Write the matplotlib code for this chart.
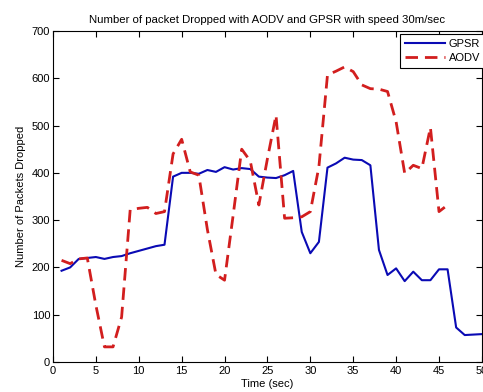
import matplotlib.pyplot as plt
import numpy as np

plt.rcParams['font.family'] = ['Liberation Sans', 'DejaVu Sans']

# GPSR packets dropped per second
gpsr_t = list(range(1, 51))
gpsr = [193, 200, 218, 220, 222, 218, 222, 224, 230, 235,
        240, 245, 248, 392, 400, 400, 398, 406, 402, 412,
        407, 410, 408, 392, 390, 389, 395, 404, 275, 230,
        254, 411, 420, 432, 428, 427, 416, 237, 184, 198,
        171, 191, 173, 173, 196, 196, 73, 57, 58, 59]

# AODV packets dropped per second
aodv_t = list(range(1, 47))
aodv = [215, 208, 218, 220, 120, 32, 32, 95, 322, 325,
        327, 314, 318, 440, 471, 402, 395, 280, 185, 173,
        310, 450, 425, 332, 430, 522, 304, 305, 307, 318,
        413, 607, 615, 624, 614, 586, 578, 577, 572, 508,
        399, 416, 409, 496, 318, 332]

fig = plt.figure(figsize=(4.83, 3.92), dpi=100)
ax = fig.add_axes([0.1097, 0.0765, 0.888, 0.8445])

ax.plot(gpsr_t, gpsr, color='#0a0ab4', linewidth=1.5, label='GPSR')
ax.plot(aodv_t, aodv, color='#d21e1e', linewidth=2, linestyle=(0, (4.5, 2.5)), label='AODV')

ax.set_xlim(0, 50)
ax.set_ylim(0, 700)
ax.set_xticks(range(0, 51, 5))
ax.set_yticks(range(0, 701, 100))
ax.tick_params(direction='in', top=True, right=True, labelsize=8, length=4, width=0.8)
ax.tick_params(axis='x', pad=3)
ax.tick_params(axis='y', pad=2)
for s in ax.spines.values():
    s.set_linewidth(0.8)

ax.set_title("Number of packet Dropped with AODV and GPSR with speed 30m/sec", fontsize=8.2, pad=6)
ax.set_xlabel("Time (sec)", fontsize=8, labelpad=2)
ax.set_ylabel("Number of Packets Dropped", fontsize=8, labelpad=4)

leg = ax.legend(loc='upper right', bbox_to_anchor=(1.008, 0.99), fontsize=8, fancybox=False,
                framealpha=1, edgecolor='black', borderaxespad=0, handlelength=3.6,
                handletextpad=0.4, borderpad=0.45, labelspacing=0.35)
leg.get_frame().set_linewidth(0.8)

fig.savefig('out.png', dpi=100)
